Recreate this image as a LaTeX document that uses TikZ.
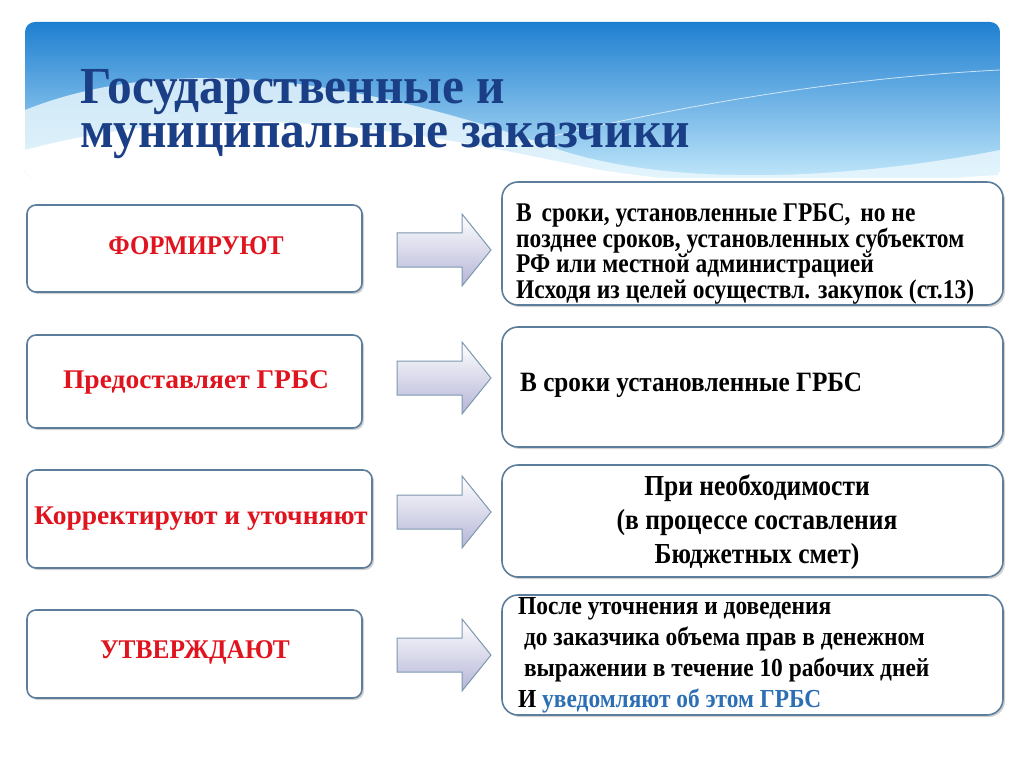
\documentclass[tikz,border=0pt]{standalone}
\usepackage{fontspec}
\setmainfont{Liberation Serif}
\usetikzlibrary{shadows}
\definecolor{tblue}{HTML}{1B3F86}
\definecolor{hdark}{HTML}{1E7FD0}
\definecolor{hlight}{HTML}{BFE6FA}
\definecolor{bord}{HTML}{5C7E9C}
\definecolor{lbl}{HTML}{E0141E}
\definecolor{linkb}{HTML}{2C6FB4}
\tikzset{
 lbox/.style={draw=bord,line width=1.6pt,rounded corners=9pt,fill=white,drop shadow={opacity=0.35,shadow xshift=2pt,shadow yshift=-2pt}},
 rbox/.style={lbox,rounded corners=16pt},
 arrbody/.style={draw=bord!80,line width=1pt,top color=white,bottom color=blue!30!gray!45},
 ltxt/.style={font=\bfseries\fontsize{27}{30}\selectfont,text=lbl}
}
\newcommand{\bigarrow}[2]{\path[arrbody] (397,#1-17) -- (462,#1-17) -- (462,#1-36) -- (491,#1) -- (462,#1+36) -- (462,#1+17) -- (397,#1+17) -- cycle; \coordinate (#2) at (444,#1);}
\begin{document}
\begin{tikzpicture}[x=1pt,y=-1pt]
\useasboundingbox (0,0) rectangle (1024,767);
\fill[white] (0,0) rectangle (1024,767);
% header
\begin{scope}
\clip[rounded corners=10pt] (25,22) rectangle (1000,178);
\shade[top color=hdark,bottom color=hlight] (25,22) rectangle (1000,178);
\fill[white!70!hlight,opacity=0.8] (25,110) .. controls (200,40) and (420,100) .. (560,150) .. controls (700,195) and (900,170) .. (1000,150) -- (1000,178) -- (25,178) -- cycle;
\fill[white] (25,178) -- (25,150) .. controls (250,90) and (450,140) .. (600,170) .. controls (800,200) and (900,180) .. (1000,175) -- (1000,178) -- cycle;
\draw[white,opacity=0.7,line width=0.8pt] (400,175) .. controls (600,120) and (800,80) .. (1000,70);
\end{scope}
\node[anchor=west,inner sep=0pt,text=tblue,font=\bfseries\fontsize{52}{44}\selectfont,align=left,xscale=0.95] (title) at (80,114) {Государственные и\\муниципальные заказчики};
% left boxes
\draw[lbox] (27,205) rectangle (362,292);
\draw[lbox] (27,335) rectangle (362,428);
\draw[lbox] (27,470) rectangle (372,568);
\draw[lbox] (27,610) rectangle (362,698);
\node[ltxt,xscale=0.92] (l1) at (196,246) {ФОРМИРУЮТ};
\node[ltxt,xscale=1.02] (l2) at (196,382) {Предоставляет ГРБС};
\node[ltxt,xscale=1.02] (l3) at (201,519) {Корректируют и уточняют};
\node[ltxt,xscale=0.94] (l4) at (195,652) {УТВЕРЖДАЮТ};
% right boxes
\draw[rbox] (502,182) rectangle (1003,305);
\draw[rbox] (502,327) rectangle (1003,447);
\draw[rbox] (502,465) rectangle (1003,577);
\draw[rbox] (502,595) rectangle (1003,715);
% arrows
\bigarrow{250}{a1}
\bigarrow{378}{a2}
\bigarrow{512}{a3}
\bigarrow{655}{a4}
% right texts
\node[inner sep=0pt,anchor=north west,align=left,font=\bfseries\fontsize{27}{18}\selectfont,xscale=0.87] (r1) at (516,203) {В\, сроки, установленные ГРБС,\, но не\\позднее сроков, установленных субъектом\\РФ или местной администрацией\\Исходя из целей осуществл. закупок (ст.13)};
\node[font=\bfseries\fontsize{28}{25}\selectfont,anchor=west,inner sep=0pt,xscale=0.9] (r2) at (520,385) {В сроки установленные ГРБС};
\node[font=\bfseries\fontsize{29}{34}\selectfont,align=center,xscale=0.88] (r3) at (757,522) {При необходимости\\(в процессе составления\\Бюджетных смет)};
\node[inner sep=0pt,anchor=north west,align=left,font=\bfseries\fontsize{26}{31}\selectfont,xscale=0.9] (r4) at (518,597) {После уточнения и доведения\\\ до заказчика объема прав в денежном\\\ выражении в течение 10 рабочих дней\\И \textcolor{linkb}{уведомляют об этом ГРБС}};
\end{tikzpicture}
\end{document}
